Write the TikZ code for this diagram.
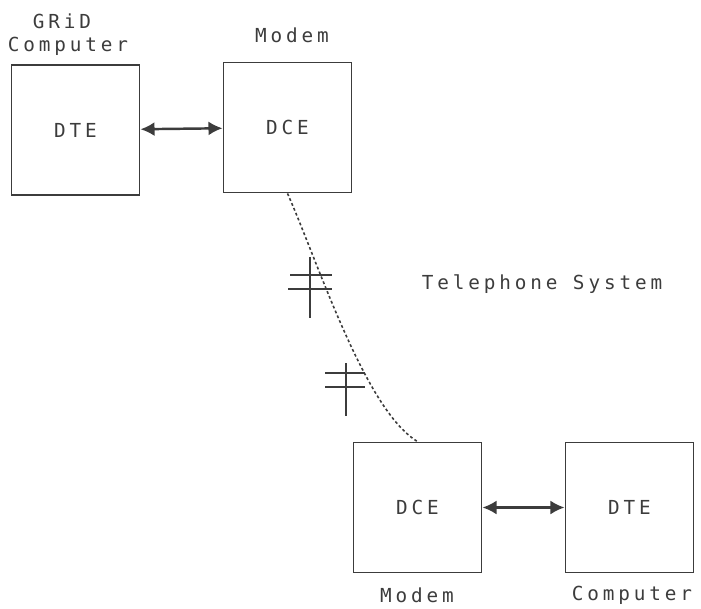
\documentclass[tikz,border=0pt]{standalone}
\usepackage{fontspec}
\newfontfamily\dotfont[LetterSpace=20]{DejaVu Sans Mono}
\usepackage{xcolor}
\usepackage{tikz}
\usetikzlibrary{arrows.meta,positioning}
\definecolor{ink}{RGB}{60,60,60}

\begin{document}
\begin{tikzpicture}[
     unit/.style={draw=ink,line width=1.1pt,minimum width=2.56cm,minimum height=2.6cm,
                  text=ink,font=\dotfont\fontsize{11}{13}\selectfont},
     lbl/.style={text=ink,font=\dotfont\fontsize{11}{13}\selectfont,inner sep=0pt},
     link/.style={draw=ink,line width=1.4pt,{Latex[length=8pt,width=8pt]}-{Latex[length=8pt,width=8pt]}},
     wire/.style={draw=ink,line width=1pt},
     phone/.style={draw=ink,line width=0.9pt,dash pattern=on 1.6pt off 1.4pt}]
   \useasboundingbox (0,0) rectangle (14.02,-12.18);
   % the four boxes
   \node[unit] (gridDte) at (1.51,-2.6) {DTE};
   \node[unit] (topDce) at (5.75,-2.55) {DCE};
   \node[unit] (botDce) at (8.35,-10.15) {DCE};
   \node[unit] (botDte) at (12.59,-10.15) {DTE};
   % labels
   \node[lbl] (gridLbl) at (1.24,-0.42) {GRiD};
   \node[lbl] (gridComp) at (1.36,-0.92) {Computer};
   \node[lbl] (topModem) at (5.84,-0.70) {Modem};
   \node[lbl] (telLbl) at (10.84,-5.68) {Telephone System};
   \node[lbl] (botModem) at (8.34,-11.90) {Modem};
   \node[lbl] (botComp) at (12.64,-11.90) {Computer};
   % connections
   \draw[link] (gridDte) -- (topDce);
   \draw[link] (botDce) -- (botDte);
   \draw[phone] (topDce.south) .. controls (6.36,-5.24) and (7.3,-8.2) .. (botDce.north);
   % cut marks on the line
   \draw[wire] (6.2,-5.14) -- (6.2,-6.36);
   \draw[wire] (5.8,-5.50) -- (6.64,-5.50);
   \draw[wire] (5.76,-5.78) -- (6.64,-5.78);
   \draw[wire] (6.92,-7.26) -- (6.92,-8.32);
   \draw[wire] (6.5,-7.46) -- (7.3,-7.46);
   \draw[wire] (6.5,-7.74) -- (7.3,-7.74);
  \end{tikzpicture}
\end{document}
